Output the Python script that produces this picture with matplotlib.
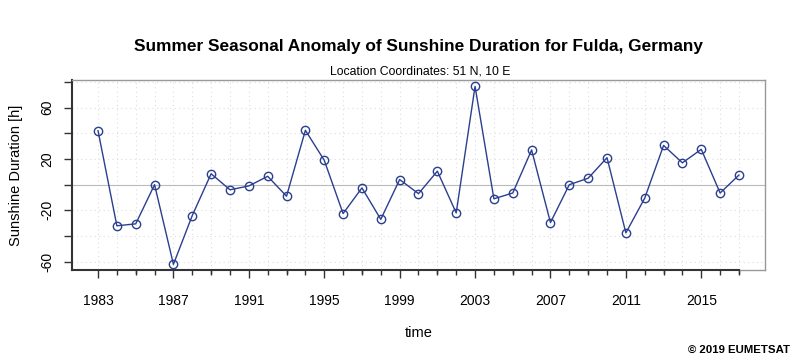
import numpy as np
import matplotlib
matplotlib.use("Agg")
import matplotlib.pyplot as plt
from matplotlib.ticker import FixedLocator

plt.rcParams['font.family'] = ['Liberation Sans', 'DejaVu Sans']

# data
years = list(range(1983, 2018))
anomaly = [42, -32, -30.5, 0, -62, -24, 8.5, -4, -1, 6.5, -9, 42.3,
           19, -22.5, -2.5, -27, 4, -7, 10.5, -22, 76.5, -11, -6.5, 27,
           -29.5, 0, 5, 21, -37.5, -10.5, 30.5, 17, 27.5, -6.5, 7.5]
label_years = list(range(1983, 2018, 4))
y_labels = [60, 20, -20, -60]

fig = plt.figure(figsize=(8, 3.6), dpi=100)
ax = fig.add_axes([0.09, 0.25, 0.866, 0.528])

# grid, zero line
for yr in years:
    ax.axvline(yr, color='#dddddd', lw=0.8, ls=(0, (1, 3)), zorder=0)
for v in range(-60, 81, 20):
    ax.axhline(v, color='#dddddd', lw=0.8, ls=(0, (1, 3)), zorder=0)
ax.axhline(0, color='#bbbbbb', lw=0.8, zorder=1)

ax.plot(years, anomaly, color='#2b3f8f', lw=1.0, marker='o', ms=6,
        mfc='none', mec='#2b3f8f', mew=1.0, zorder=3)

ax.set_xlim(1981.62, 2018.37)
ax.set_ylim(-66.4, 81.5)

ax.xaxis.set_major_locator(FixedLocator(label_years))
ax.xaxis.set_minor_locator(FixedLocator(years))
ax.tick_params(axis='x', which='major', length=6, width=1, color='#333333',
               labelsize=10, pad=11)
ax.tick_params(axis='x', which='minor', length=3.5, width=1, color='#333333')
# longer ticks every two years
for yr in range(1985, 2018, 4):
    ax.plot([yr, yr], [0, -0.018], transform=ax.get_xaxis_transform(),
            clip_on=False, color='#333333', lw=1)

ax.set_yticks(list(range(-60, 81, 20)))
ax.set_yticklabels([str(v) if v in y_labels else '' for v in range(-60, 81, 20)],
                   rotation=90, va='center')
ax.tick_params(axis='y', length=6, width=1, color='#333333', labelsize=10, pad=7)

for s in ['top', 'right']:
    ax.spines[s].set_color('#999999')
    ax.spines[s].set_linewidth(1)
ax.spines['left'].set_color('#333333')
ax.spines['left'].set_linewidth(1.5)
ax.spines['bottom'].set_color('#333333')
ax.spines['bottom'].set_linewidth(1.5)
ax.spines['bottom'].set_bounds(1981.62, 2017)
ax.plot([2017, 2018.37], [0, 0], transform=ax.get_xaxis_transform(),
        clip_on=False, color='#999999', lw=1)

ax.set_ylabel('Sunshine Duration [h]', fontsize=10.5, labelpad=12)
ax.set_xlabel('time', fontsize=10.5, labelpad=13)

fig.text(0.523, 0.87, 'Summer Seasonal Anomaly of Sunshine Duration for Fulda, Germany',
         ha='center', va='center', fontsize=12.4, fontweight='bold')
fig.text(0.525, 0.8, 'Location Coordinates: 51 N, 10 E',
         ha='center', va='center', fontsize=8.8)
fig.text(0.988, 0.028, '\u00a9 2019 EUMETSAT', ha='right', va='center',
         fontsize=8.2, fontweight='bold')

fig.savefig('out.png', dpi=100)
